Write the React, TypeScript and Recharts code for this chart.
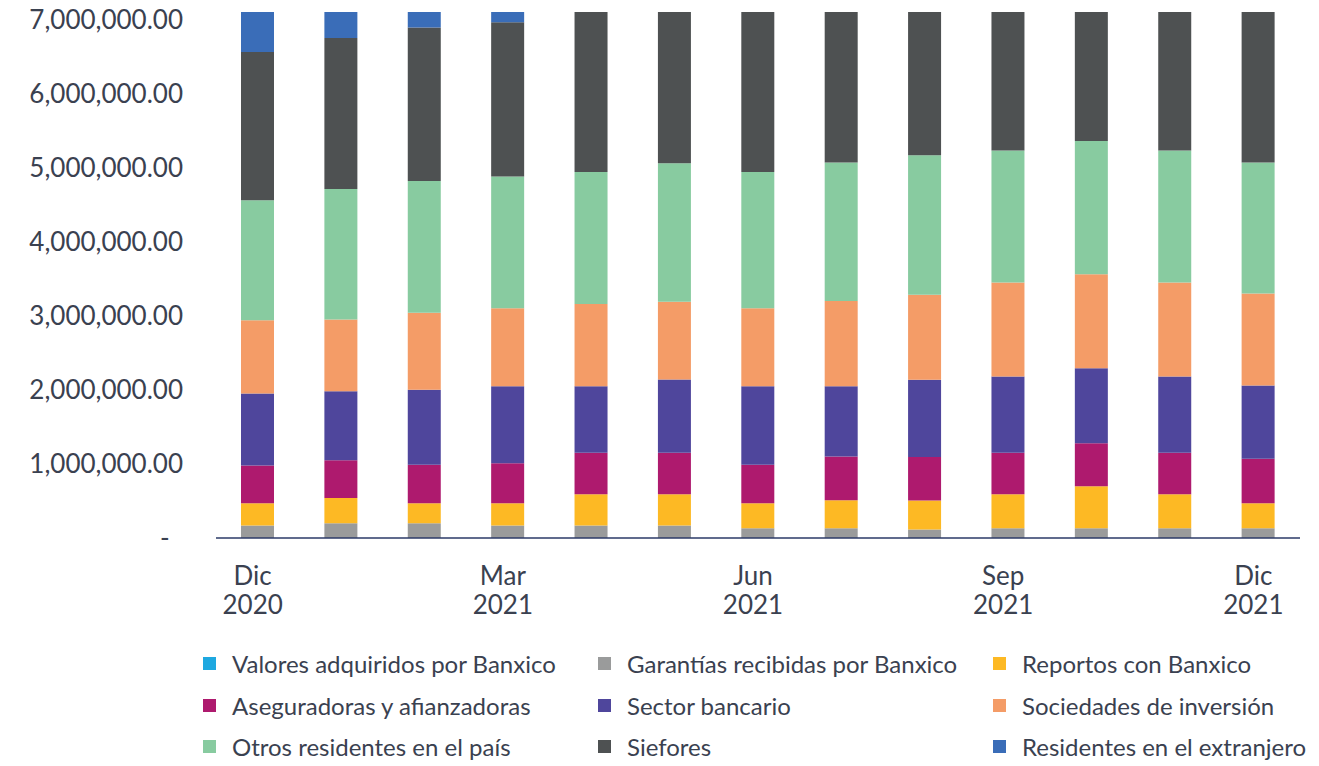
import { BarChart, Bar, XAxis, YAxis } from 'recharts'

const categories = [
  'Dic 2020', 'Ene 2021', 'Feb 2021', 'Mar 2021', 'Abr 2021', 'May 2021', 'Jun 2021',
  'Jul 2021', 'Ago 2021', 'Sep 2021', 'Oct 2021', 'Nov 2021', 'Dic 2021',
]

const valores = [0, 0, 0, 0, 0, 0, 0, 0, 0, 0, 0, 0, 0]
const garantias = [170000, 200000, 200000, 170000, 170000, 170000, 130000, 130000, 115000, 130000, 130000, 130000, 130000]
const reportos = [300000, 340000, 270000, 300000, 420000, 420000, 340000, 380000, 390000, 460000, 570000, 460000, 340000]
const aseguradoras = [510000, 510000, 520000, 540000, 560000, 560000, 520000, 590000, 590000, 560000, 580000, 560000, 600000]
const bancario = [970000, 930000, 1010000, 1040000, 900000, 990000, 1060000, 950000, 1040000, 1030000, 1010000, 1030000, 990000]
const sociedades = [990000, 970000, 1040000, 1050000, 1110000, 1050000, 1050000, 1150000, 1150000, 1270000, 1270000, 1270000, 1240000]
const otros = [1620000, 1760000, 1780000, 1780000, 1780000, 1870000, 1840000, 1870000, 1880000, 1780000, 1800000, 1780000, 1770000]
const siefores = [2000000, 2040000, 2070000, 2080000, 2250000, 2120000, 2250000, 2130000, 2020000, 1950000, 1830000, 1950000, 2130000]
const extranjero = [600000, 420000, 270000, 180000, 100000, 80000, 70000, 60000, 50000, 50000, 40000, 40000, 40000]

const yTicks = [0, 1000000, 2000000, 3000000, 4000000, 5000000, 6000000, 7000000]

const series = [
  { key: 'valores', name: 'Valores adquiridos por Banxico', color: '#1ea8e0', values: valores },
  { key: 'garantias', name: 'Garantías recibidas por Banxico', color: '#9a9b9b', values: garantias },
  { key: 'reportos', name: 'Reportos con Banxico', color: '#fdb924', values: reportos },
  { key: 'aseguradoras', name: 'Aseguradoras y afianzadoras', color: '#ae1a6e', values: aseguradoras },
  { key: 'bancario', name: 'Sector bancario', color: '#4f469c', values: bancario },
  { key: 'sociedades', name: 'Sociedades de inversión', color: '#f49c67', values: sociedades },
  { key: 'otros', name: 'Otros residentes en el país', color: '#88cba0', values: otros },
  { key: 'siefores', name: 'Siefores', color: '#4e5152', values: siefores },
  { key: 'extranjero', name: 'Residentes en el extranjero', color: '#3a6db8', values: extranjero },
]

const data = categories.map((name, i) => {
  const row: Record<string, string | number> = { name }
  series.forEach((s) => (row[s.key] = s.values[i]))
  return row
})

const textColor = '#3a4150'
const font = 'Lato, "Open Sans", sans-serif'

const MonthTick = (props: any) => {
  const { x, y, payload } = props
  const [month, year] = String(payload.value).split(' ')
  return (
    <text x={x - 5} y={y} textAnchor="middle" fill={textColor} fontSize={26} fontFamily={font}>
      <tspan x={x - 5} dy={47}>{month}</tspan>
      <tspan x={x - 5} dy={29}>{year}</tspan>
    </text>
  )
}

const legendCols = [203, 598, 993]
const legendRows = [663, 705, 746]

export default function App() {
  return (
    <div style={{ position: 'absolute', left: 0, top: 0, width: 1319, height: 766, background: '#fff', fontFamily: font }}>
      <BarChart
        width={1319}
        height={640}
        data={data}
        margin={{ top: 12, right: 19, left: 0, bottom: 22 }}
      >
        <XAxis
          dataKey="name"
          height={80}
          interval={2}
          tickLine={false}
          tickSize={0}
          tickMargin={0}
          axisLine={{ stroke: '#2b3a67', strokeWidth: 1.5 }}
          tick={<MonthTick />}
        />
        <YAxis
          width={216}
          domain={[0, 7100000]}
          ticks={yTicks}
          allowDataOverflow
          axisLine={false}
          tickLine={false}
          tickSize={0}
          tickMargin={33}
          tick={{ fill: textColor, fontSize: 26, fontFamily: font }}
          tickFormatter={(v: number) =>
            v === 0 ? '-\u00a0\u00a0' : v.toLocaleString('en-US', { minimumFractionDigits: 2, maximumFractionDigits: 2 })
          }
        />
        {series.map((s) => (
          <Bar
            key={s.key}
            dataKey={s.key}
            name={s.name}
            stackId="a"
            fill={s.color}
            barSize={33}
            isAnimationActive={false}
          />
        ))}
      </BarChart>
      {series.map((s, i) => (
        <div
          key={s.key}
          style={{
            position: 'absolute',
            left: legendCols[i % 3],
            top: legendRows[Math.floor(i / 3)] - 15,
            height: 30,
            display: 'flex',
            alignItems: 'center',
            fontSize: 24,
            color: textColor,
            whiteSpace: 'nowrap',
          }}
        >
          <span style={{ display: 'inline-block', width: 13, height: 13, background: s.color, marginRight: 16 }} />
          {s.name}
        </div>
      ))}
    </div>
  )
}
